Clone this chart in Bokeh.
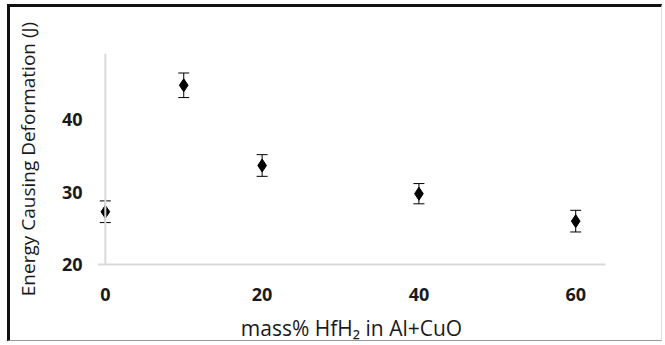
from bokeh.plotting import figure
from bokeh.models import ColumnDataSource, Whisker, Range1d, FixedTicker, Span
from bokeh.embed import file_html
from bokeh.resources import INLINE

# data
mass_pct = [0, 10, 20, 40, 60]
energy = [27.3, 44.8, 33.7, 29.8, 26.0]
energy_err = [1.5, 1.7, 1.5, 1.4, 1.5]
x_ticks = [0, 20, 40, 60]
y_ticks = [20, 30, 40]

src = ColumnDataSource(dict(
    x=mass_pct,
    y=energy,
    lo=[v - e for v, e in zip(energy, energy_err)],
    hi=[v + e for v, e in zip(energy, energy_err)],
))

p = figure(width=655, height=337, output_backend="svg", toolbar_location=None,
           x_range=Range1d(-1.0, 63.8), y_range=Range1d(20, 49.2),
           min_border_left=87, min_border_right=60, min_border_top=46, min_border_bottom=78)
p.margin = (4, 0, 0, 7)
p.styles = {"border-top": "3px solid #111", "border-left": "3px solid #111",
            "border-bottom": "1px solid #999", "border-right": "1px solid #ddd"}

p.outline_line_color = None
p.grid.grid_line_color = None
p.background_fill_color = "white"
p.border_fill_color = "white"

for ax in (p.xaxis, p.yaxis):
    ax.axis_line_color = "#d9d9d9"
    ax.axis_line_width = 2
    ax.major_tick_line_color = None
    ax.minor_tick_line_color = None
    ax.major_label_text_font = "Open Sans"
    ax.major_label_text_font_size = "18px"
    ax.major_label_text_font_style = "bold"
    ax.major_label_text_color = "#1a1a1a"
    ax.axis_label_text_font = "Open Sans"
    ax.axis_label_text_font_style = "normal"
    ax.axis_label_text_color = "#1a1a1a"

p.yaxis.axis_line_color = None
p.add_layout(Span(location=0, dimension="height", line_color="#d9d9d9", line_width=2))

p.xaxis.ticker = FixedTicker(ticks=x_ticks)
p.yaxis.ticker = FixedTicker(ticks=y_ticks)
p.xaxis.major_label_standoff = 17
p.yaxis.major_label_standoff = 9
p.xaxis.axis_label = "mass% HfH\u2082 in Al+CuO"
p.yaxis.axis_label = "Energy Causing Deformation (J)"
p.xaxis.axis_label_text_font_size = "21px"
p.yaxis.axis_label_text_font_size = "19px"
p.xaxis.axis_label_standoff = 10
p.yaxis.axis_label_standoff = 18

w = Whisker(base="x", upper="hi", lower="lo", source=src, dimension="height",
            line_color="black", line_width=1)
w.upper_head.size = 11
w.lower_head.size = 11
w.upper_head.line_color = "black"
w.lower_head.line_color = "black"
p.add_layout(w)

p.scatter("x", "y", source=src, marker="diamond", size=13, color="black")

open("out.html", "w").write(file_html(p, INLINE))
